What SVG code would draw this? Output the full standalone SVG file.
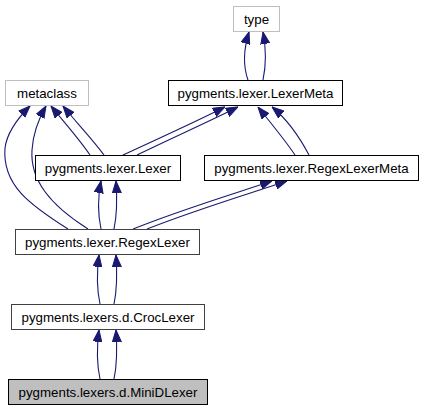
<svg xmlns="http://www.w3.org/2000/svg" width="424" height="411" viewBox="0 0 424 411">
<defs>
<style>
.box{fill:#ffffff;stroke:#000000;stroke-width:1}
.ext{fill:#ffffff;stroke:#bfbfbf;stroke-width:1}
.dark{fill:#ffffff;stroke:#404040;stroke-width:1}
.sel{fill:#bfbfbf;stroke:#000000;stroke-width:1}
text{font-family:"Liberation Sans",Arial,Helvetica,sans-serif;font-size:13.3px;fill:#000000;text-anchor:middle}
.edge{fill:none;stroke:#191970;stroke-width:1.1;marker-end:url(#arr)}
</style>
<marker id="arr" viewBox="0 0 12 10" refX="12" refY="5" markerWidth="12" markerHeight="10" markerUnits="userSpaceOnUse" orient="auto">
<path d="M0,0.5 L12,5 L0,9.5 Z" fill="#191970" stroke="#191970" stroke-width="1"/>
</marker>
</defs>
<rect width="424" height="411" fill="#ffffff"/>
<g id="edges">
<path class="edge" d="M248,80 C243,66 244,48 249,32"/>
<path class="edge" d="M263,80 C266,66 266,48 263,32"/>
<path class="edge" d="M90,155 C80,140 64,122 51,106"/>
<path class="edge" d="M104,155 C93,140 76,122 63,106"/>
<path class="edge" d="M68,229 C30,205 2,185 5,148 C7,132 18,118 30,106"/>
<path class="edge" d="M88,229 C50,205 30,180 32,150 C33,134 38,120 46,106"/>
<path class="edge" d="M123,155 C160,138 195,122 225,107"/>
<path class="edge" d="M137,155 C172,138 208,122 238,107"/>
<path class="edge" d="M295,155 C285,140 270,122 258,107"/>
<path class="edge" d="M309,155 C300,138 288,120 272,107"/>
<path class="edge" d="M133,229 C180,210 230,195 272,181"/>
<path class="edge" d="M147,229 C195,210 245,195 287,181"/>
<path class="edge" d="M101,229 C98,215 98,196 101,181"/>
<path class="edge" d="M114,229 C117,215 117,196 116,181"/>
<path class="edge" d="M100,304 C97,290 97,270 99,255"/>
<path class="edge" d="M114,304 C117,290 117,270 116,255"/>
<path class="edge" d="M100,379 C97,365 97,345 99,330"/>
<path class="edge" d="M114,379 C117,365 117,345 116,330"/>
</g>
<g id="type">
<rect class="ext" x="233.5" y="6.5" width="46" height="25"/>
<text x="256.5" y="23.5">type</text>
</g>
<g id="metaclass">
<rect class="ext" x="5.5" y="80.5" width="83" height="25"/>
<text x="47" y="97.5">metaclass</text>
</g>
<g id="LexerMeta">
<rect class="box" x="168.5" y="80.5" width="174" height="25"/>
<text x="255.5" y="97.5">pygments.lexer.LexerMeta</text>
</g>
<g id="Lexer">
<rect class="box" x="35.5" y="155.5" width="145" height="25"/>
<text x="108" y="172.5">pygments.lexer.Lexer</text>
</g>
<g id="RegexLexerMeta">
<rect class="box" x="204.5" y="155.5" width="214" height="25"/>
<text x="311.5" y="172.5">pygments.lexer.RegexLexerMeta</text>
</g>
<g id="RegexLexer">
<rect class="dark" x="15.5" y="229.5" width="184" height="25"/>
<text x="107.5" y="246.5">pygments.lexer.RegexLexer</text>
</g>
<g id="CrocLexer">
<rect class="dark" x="11.5" y="304.5" width="193" height="25"/>
<text x="108" y="321.5">pygments.lexers.d.CrocLexer</text>
</g>
<g id="MiniDLexer">
<rect class="sel" x="8.5" y="379.5" width="199" height="25"/>
<text x="108" y="396.5">pygments.lexers.d.MiniDLexer</text>
</g>
</svg>
